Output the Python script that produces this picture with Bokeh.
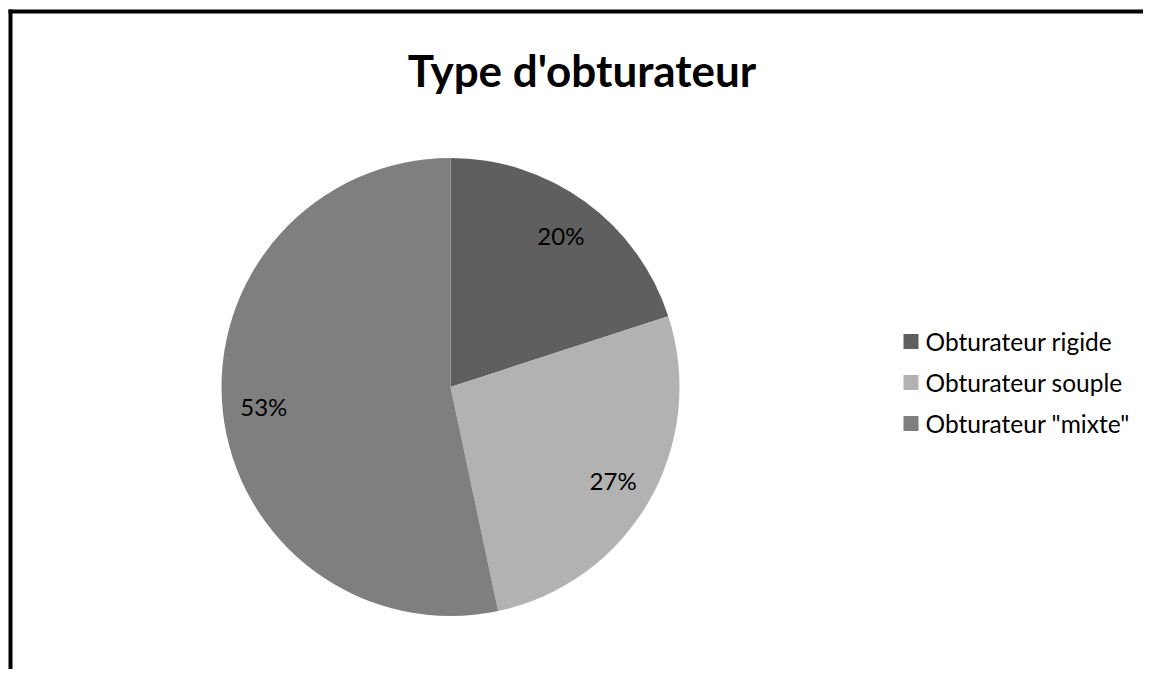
import math
from bokeh.plotting import figure
from bokeh.models import Range1d, ColumnDataSource
from bokeh.core.properties import value
from bokeh.embed import file_html
from bokeh.resources import INLINE

# ---- data ----
title = "Type d'obturateur"
categories = ["Obturateur rigide", "Obturateur souple", 'Obturateur "mixte"']
counts = [3, 4, 8]
colors = ["#5f5f5f", "#b2b2b2", "#7f7f7f"]

FONT = "Lato"

# ---- layout (pixel-like data space) ----
W, H = 1143, 669
cx, cy, R = 450, 282.5, 229

p = figure(width=W, height=H, output_backend="svg", toolbar_location=None,
           x_range=Range1d(0, W), y_range=Range1d(0, H),
           x_axis_type=None, y_axis_type=None, min_border=0,
           outline_line_color=None)
p.grid.visible = False
p.background_fill_color = "white"
p.border_fill_color = "white"

# chart border (top and left visible; chart extends past the window)
p.segment(x0=[8, 10], y0=[658, 0], x1=[W, 10], y1=[658, 660],
          line_color="black", line_width=4)

# pie
total = sum(counts)
starts, ends, mids, labels = [], [], [], []
cum = 0
for c in counts:
    a0 = math.pi / 2 - 2 * math.pi * cum / total
    cum += c
    a1 = math.pi / 2 - 2 * math.pi * cum / total
    starts.append(a0)
    ends.append(a1)
    mids.append((a0 + a1) / 2)
    labels.append(f"{round(100 * c / total)}%")

src = ColumnDataSource(dict(
    x=[cx] * len(counts), y=[cy] * len(counts),
    start=starts, end=ends, color=colors, cat=categories,
    lx=[cx + 0.82 * R * math.cos(m) for m in mids],
    ly=[cy + 0.82 * R * math.sin(m) for m in mids],
    lab=labels,
))
p.wedge(x="x", y="y", radius=R, radius_units="screen", start_angle="start",
        end_angle="end", direction="clock", fill_color="color",
        line_color=None, source=src)
p.text(x="lx", y="ly", text="lab", source=src, text_align="center",
       text_baseline="middle", text_font=value(FONT), text_font_size="24px",
       text_color="black")

# title
p.text(x=[581.5], y=[600], text=[title], text_align="center",
       text_baseline="alphabetic", text_font=value(FONT),
       text_font_size="44px", text_font_style="bold", text_color="black")

# legend
leg = ColumnDataSource(dict(
    x=[910.5] * len(categories), tx=[925] * len(categories),
    y=[328 - 41 * i for i in range(len(categories))],
    color=colors, cat=categories,
))
p.scatter(x="x", y="y", marker="square", size=15, fill_color="color",
          line_color=None, source=leg)
p.text(x="tx", y="y", text="cat", source=leg, text_align="left",
       text_baseline="middle", text_font=value(FONT), text_font_size="24.5px",
       text_color="black")

open("out.html", "w").write(file_html(p, INLINE))
